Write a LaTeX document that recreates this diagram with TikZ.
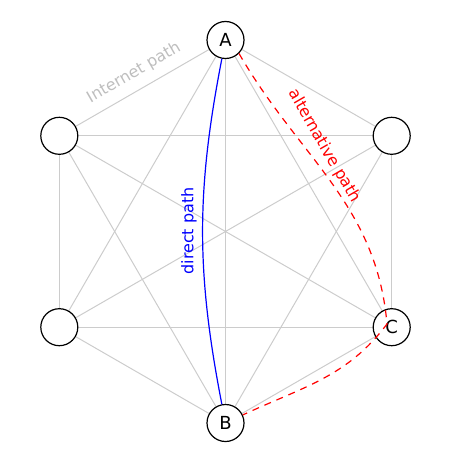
\documentclass[tikz,border=0pt]{standalone}
\usepackage{fontspec}
\setmainfont{DejaVu Sans}
\usetikzlibrary{calc}
\definecolor{edgegray}{RGB}{204,204,204}
\definecolor{labelgray}{RGB}{190,190,190}
\tikzset{
  vertex/.style={circle,draw=black,line width=0.6pt,fill=white,minimum size=18.5pt,inner sep=0pt,font=\fontsize{9}{10}\selectfont},
  netedge/.style={draw=edgegray,line width=0.5pt},
  directpath/.style={draw=blue,line width=0.6pt},
  altpath/.style={draw=red,line width=0.6pt,dash pattern=on 3.5pt off 3pt},
  lbl/.style={font=\fontsize{8}{9}\selectfont,inner sep=0pt}
}
\begin{document}
\begin{tikzpicture}[x=0.5pt,y=-0.5pt]
\useasboundingbox (0,0) rectangle (460,460);
\coordinate (pA) at (225.5,40);
\coordinate (pUL) at (59.3,135.8);
\coordinate (pUR) at (391.7,135.8);
\coordinate (pLL) at (59.3,327.2);
\coordinate (pC) at (391.7,327.2);
\coordinate (pB) at (225.5,423);
\foreach \u/\v in {pA/pUL,pA/pUR,pA/pLL,pA/pC,pA/pB,pUL/pUR,pUL/pLL,pUL/pC,pUL/pB,pUR/pLL,pUR/pC,pUR/pB,pLL/pC,pLL/pB,pC/pB}
  \draw[netedge] (\u) -- (\v);
\node[vertex] (A) at (pA) {A};
\node[vertex] (UL) at (pUL) {};
\node[vertex] (UR) at (pUR) {};
\node[vertex] (LL) at (pLL) {};
\node[vertex] (C) at (pC) {C};
\node[vertex] (B) at (pB) {B};
\draw[directpath] (A) to[bend right=11] (B);
\coordinate (via) at (387,324);
\draw[altpath] (A.-45) to[out=-60,in=95] (via) to[out=-127,in=25] (B);
\node[lbl,text=labelgray,rotate=30] (inet) at (134,73) {Internet path};
\node[lbl,text=blue,rotate=90] (dlab) at (189,231) {direct path};
\node[lbl,text=red,rotate=-60] (alab) at (324,146) {alternative path};
\end{tikzpicture}
\end{document}
